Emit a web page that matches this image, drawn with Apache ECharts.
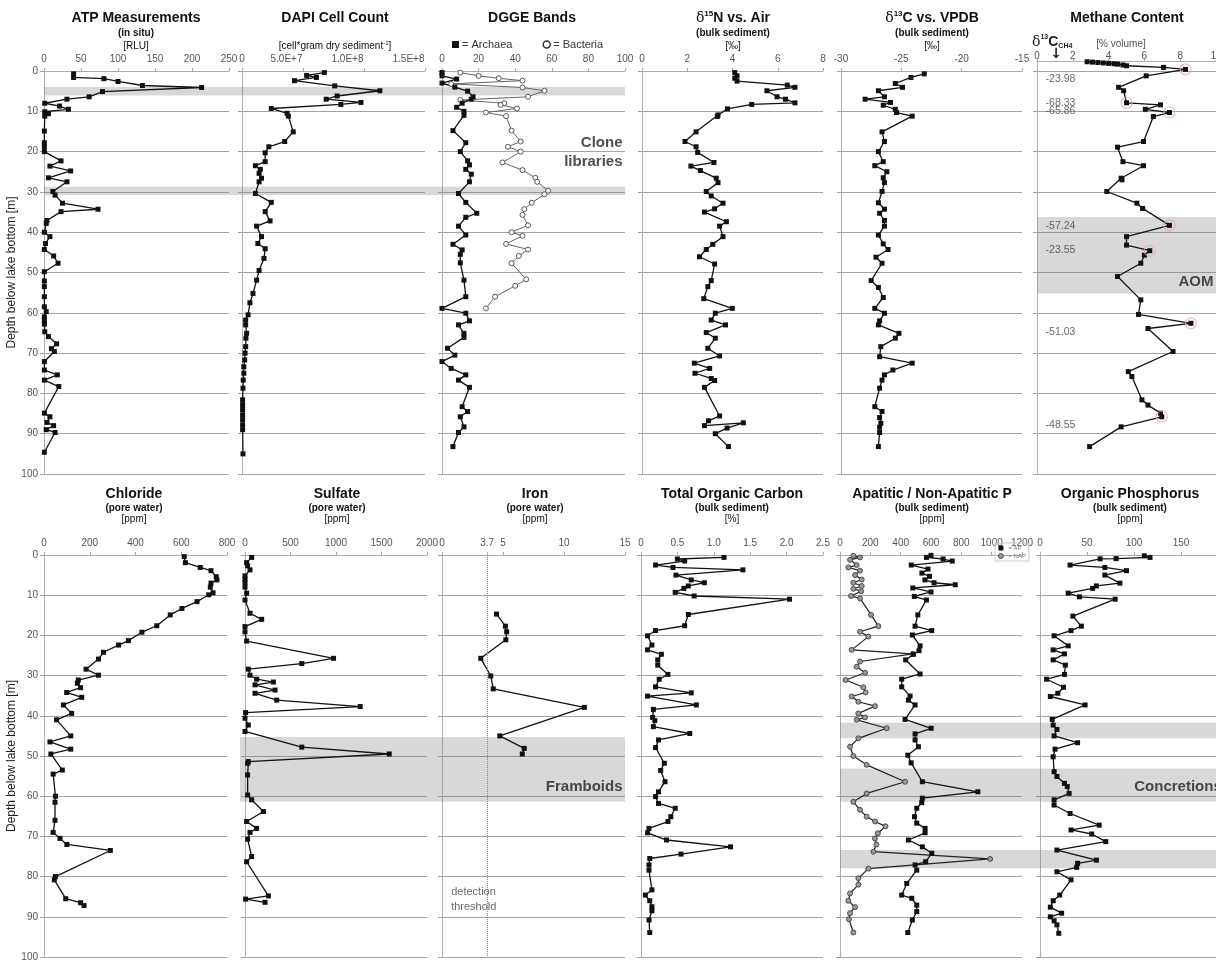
<!DOCTYPE html>
<html>
<head>
<meta charset="utf-8">
<title>Sediment core profiles</title>
<script src="https://cdn.jsdelivr.net/npm/echarts@6/dist/echarts.min.js"></script>
<style>html,body{margin:0;padding:0;background:#fff}#chart{width:1216px;height:960px}</style>
</head>
<body>
<div id="chart"></div>
<script>
// ================= DATA (depth in m below lake bottom) =================
const atpDepth = [0.7,1.6,1.9,2.6,3.6,4.1,5.1,6.4,7.0,8.0,8.7,9.5,10.1,10.6,11.2,14.9,17.8,18.8,20.0,22.3,23.6,24.8,26.5,27.5,29.9,30.8,32.8,34.3,34.9,37.1,37.8,40.0,41.1,42.8,44.3,45.9,47.7,49.8,52.1,53.5,56.0,58.5,59.7,61.0,62.0,62.8,64.7,65.9,67.7,68.9,69.6,72.1,74.2,75.4,76.7,78.3,84.9,85.8,87.2,88.0,89.0,89.7,94.6];
const atpRLU = [40,40,81,100,133,213,79,61,31,1,21,33,1,6,1,0.5,0.5,0.5,0.5,23,8,36,6,31,12,15,25,73,23,4,3,0.5,8,2,0.5,13,19,0.5,0.5,0.5,0.5,0.5,3,0.5,0.5,0.5,1,6,17,10,14,0.5,0.5,18,0.5,20,0.5,8,4,13,3,15,0.5];

const dapiDepth = [0.4,1.1,1.6,2.4,3.7,4.9,6.2,7.0,7.8,8.3,9.3,10.5,11.2,15.1,17.5,18.8,20.3,22.5,23.5,24.4,25.4,26.6,27.5,30.4,32.6,34.9,37.2,38.5,41.1,42.8,44.1,46.5,49.5,51.9,55.2,57.5,60.5,61.8,63.0,65.1,66.3,68.4,70.0,71.7,73.4,75.0,76.7,78.7,81.6,82.8,84.0,85.3,86.5,87.8,89.0,95.0];
const dapiCells = [6.75e7,5.3e7,6.1e7,4.3e7,7.6e7,1.13e8,7.8e7,6.9e7,9.75e7,8.1e7,2.4e7,3.7e7,3.8e7,4.2e7,3.5e7,2.2e7,1.9e7,1.9e7,1.1e7,1.5e7,1.4e7,1.6e7,1.4e7,1.1e7,2.4e7,1.9e7,2.3e7,1.2e7,1.6e7,1.3e7,1.9e7,1.8e7,1.4e7,1.2e7,9e6,6.5e6,5e6,3e6,3e6,3.8e6,3.2e6,3e6,2.5e6,2.2e6,1.5e6,1.5e6,1e6,8e5,5e5,5e5,5e5,5e5,5e5,5e5,5e5,8e5];

const archaeaDepth = [0.4,1.2,2.0,3.0,4.0,5.0,6.4,7.0,8.0,9.0,10.0,11.0,14.8,17.8,20.0,22.3,23.3,24.4,25.6,27.5,30.4,32.6,35.3,36.3,38.5,40.7,43.0,44.4,45.5,47.6,51.9,56.0,58.9,60.1,62.0,63.0,65.1,66.1,68.8,70.5,72.1,73.8,75.4,76.7,78.5,83.3,84.5,85.8,88.3,89.7,93.2];
const archaeaBands = [0,0,8,0,7,14,17,16,11,8,12,12,6,13,10,14,15,13,16,15,9,13,19,13,9,13,6,11,10,10,12,13,0,13,15,9,12,12,3,7,0,5,13,9,15,11,14,10,12,9,6];
const bacteriaDepth = [0.4,1.2,1.8,2.4,3.2,4.1,4.9,6.4,7.2,8.0,8.4,9.3,10.3,11.2,14.8,17.5,18.8,20.0,22.7,24.6,26.5,27.5,29.7,30.6,32.7,34.3,35.7,38.3,40.0,40.9,42.9,44.3,45.9,47.7,51.7,53.3,56.0,58.9];
const bacteriaBands = [10,20,31,44,5,44,56,47,10,34,32,41,24,35,38,43,36,43,33,44,51,52,58,56,49,45,44,47,38,44,35,47,42,38,46,40,29,24];

const d15nDepth = [0.4,1.2,1.8,2.5,3.5,4.05,4.9,6.4,7.0,7.9,8.3,9.4,10.9,11.3,15.1,17.5,18.8,20.2,22.7,23.6,24.7,26.6,27.7,29.9,31.0,32.8,34.2,35.0,37.4,38.5,41.1,43.0,44.3,46.1,47.9,52.0,53.5,56.5,58.9,60.1,61.8,63.0,64.9,66.3,68.8,70.7,72.5,73.8,75.0,76.3,76.8,78.5,85.6,86.8,88.0,87.3,88.6,90.0,93.2];
const d15nValue = [4.1,4.2,4.1,4.2,6.42,6.76,5.52,5.97,6.34,6.76,4.85,3.78,3.36,3.33,2.39,1.9,2.39,2.46,3.18,2.16,2.58,3.28,3.36,2.84,3.06,3.58,3.21,2.76,3.73,3.43,3.58,3.13,2.84,2.54,3.21,3.06,2.91,2.73,3.99,3.24,3.06,3.69,2.84,3.24,2.91,3.43,2.31,2.99,2.34,3.06,3.21,2.76,3.43,2.94,2.76,4.48,3.76,3.24,3.82];

const d13cDepth = [0.7,1.6,3.1,4.05,4.9,6.4,7.0,7.8,8.5,9.5,10.3,11.2,15.1,17.5,20.0,22.5,23.5,25.0,26.5,27.7,29.9,32.7,34.3,35.3,37.1,38.5,40.7,42.9,44.3,46.2,47.7,52.0,53.7,56.2,58.9,60.1,62.0,63.0,65.1,66.3,68.4,70.9,72.5,74.2,75.4,76.7,78.7,83.3,84.5,86.0,87.4,88.4,89.7,93.2];
const d13cValue = [-23.1,-24.2,-25.5,-24.9,-26.9,-26.4,-28.0,-25.9,-26.5,-25.5,-25.4,-24.1,-26.6,-26.4,-26.9,-26.5,-27.2,-26.2,-26.5,-26.4,-26.6,-26.9,-26.4,-26.8,-26.4,-26.4,-26.9,-26.5,-26.1,-27.1,-26.6,-27.5,-26.9,-26.5,-27.2,-26.4,-26.8,-26.9,-25.2,-25.5,-26.7,-26.8,-24.1,-25.7,-26.4,-26.6,-26.8,-27.2,-26.6,-26.8,-26.7,-26.8,-26.8,-26.9];

const ch4Depth = [-2.3,-2.2,-2.1,-2.0,-1.9,-1.8,-1.7,-1.5,-1.3,-0.9,-0.4,1.2,4.05,4.9,7.9,8.4,9.5,10.3,11.3,17.5,18.9,22.5,23.5,26.6,27.0,29.9,32.8,34.1,38.3,41.1,43.2,44.6,45.7,47.7,51.0,56.8,60.4,62.6,63.9,69.6,74.6,75.8,81.6,82.9,84.9,85.8,88.3,93.2];
const ch4Volume = [2.8,3.1,3.4,3.7,4.0,4.3,4.5,4.8,5.0,7.07,8.3,6.1,4.56,4.84,5.0,6.9,6.05,7.4,6.5,5.95,4.5,4.8,5.95,4.7,4.75,3.9,5.58,5.9,7.4,5.0,5.0,6.3,6.0,5.8,4.5,5.8,5.67,8.6,6.2,7.6,5.1,5.3,5.86,6.2,6.9,6.97,4.7,2.94];
const ch4IsotopeIdx = [10,14,17,28,31,37,45];            // samples measured for d13C-CH4 (circled)
const ch4IsotopeLabel = ['-23.98','-68.33','-65.86','-57.24','-23.55','-51.03','-48.55'];
const ch4IsotopeLabelDepth = [2.0,8.0,9.9,38.5,44.4,64.7,87.8];

const chlorideDepth = [0.4,1.9,3.1,3.9,5.4,6.2,7.0,8.0,9.4,9.9,11.6,13.3,14.9,17.6,19.2,21.3,22.4,24.2,25.9,28.4,29.9,31.1,31.9,33.0,34.2,35.4,37.3,39.4,41.0,45.0,46.5,48.3,49.5,53.5,54.5,60.0,61.5,66.0,69.0,70.5,72.0,73.5,80.0,80.8,85.5,86.5,87.2];
const chloridePpm = [613,618,683,730,753,756,730,727,739,720,669,603,552,493,428,369,326,260,238,184,238,150,146,160,99,165,85,121,55,117,26,117,30,80,40,50,48,48,40,70,100,290,50,45,95,160,175];

const sulfateDepth = [0.6,1.9,2.7,3.7,5.2,6.0,6.9,8.0,9.5,11.2,14.5,16.0,17.8,19.1,21.4,25.7,27.0,28.4,29.9,30.9,31.6,32.3,33.6,34.4,36.1,37.7,39.2,40.6,42.3,43.9,47.8,49.5,51.4,51.8,54.7,59.7,60.9,63.8,66.3,68.0,69.0,70.7,75.0,76.3,84.8,85.6,86.4];
const sulfatePpm = [73,18,29,55,0,0,0,0,18,0,55,183,0,0,18,973,624,37,55,128,312,110,330,110,349,1266,7,0,37,0,624,1585,37,29,29,29,73,202,18,128,55,29,73,18,257,7,220];

const ironDepth = [14.7,17.7,19.1,21.1,25.7,30.1,33.3,37.9,45.0,48.1,49.5];
const ironPpm = [4.47,5.2,5.3,5.23,3.18,4.0,4.2,11.67,4.74,6.74,6.58];
const ironDetectionThreshold = 3.7;

const tocDepth = [0.6,1.0,1.5,2.5,3.1,3.7,5.0,6.2,6.9,7.7,8.3,9.3,10.2,11.0,14.8,17.6,18.8,20.1,22.4,23.6,24.7,26.1,27.4,29.7,30.9,32.8,34.3,35.1,37.3,38.4,40.4,41.2,42.7,44.4,46.0,47.9,51.8,53.6,56.4,58.9,60.1,61.8,63.0,65.1,66.3,68.0,69.1,70.9,72.6,74.4,75.5,77.1,78.4,83.3,84.6,86.0,87.5,88.5,90.8,93.9];
const tocPercent = [1.14,0.5,0.6,0.2,0.44,1.4,0.48,0.69,0.87,0.65,0.59,0.47,0.73,2.04,0.65,0.6,0.2,0.09,0.15,0.09,0.28,0.23,0.23,0.37,0.25,0.2,0.69,0.09,0.76,0.17,0.16,0.19,0.17,0.67,0.24,0.2,0.32,0.27,0.33,0.24,0.2,0.24,0.47,0.41,0.37,0.11,0.09,0.35,1.23,0.55,0.12,0.11,0.11,0.15,0.06,0.12,0.15,0.15,0.11,0.12];

const apDepth = [0.1,0.6,1.0,1.5,2.5,3.5,4.5,5.3,6.2,6.9,7.4,8.2,9.2,10.3,11.2,14.9,17.7,18.8,19.9,22.6,23.8,24.7,26.1,29.6,30.9,32.8,35.1,36.1,37.3,40.9,43.1,44.5,46.0,47.7,49.8,51.7,56.4,58.9,60.5,61.6,63.0,65.1,66.7,68.0,69.1,70.9,72.6,74.2,76.3,77.1,78.4,81.7,84.6,85.4,87.1,88.7,90.8,93.9];
const apPpm = [600,570,680,740,470,580,540,590,560,620,760,480,600,490,570,513,495,605,477,528,521,484,433,528,407,407,462,451,495,429,601,495,495,517,447,469,543,909,543,539,506,491,506,561,561,451,543,605,565,495,506,440,407,473,506,506,477,447];
const napDepth = [0.2,0.6,1.2,2.5,3.1,3.9,5.0,6.1,6.9,7.7,8.4,9.0,10.2,10.8,14.9,17.7,19.1,20.3,23.6,24.6,26.5,27.8,29.3,31.1,32.9,34.2,35.2,36.5,37.6,39.4,40.4,41.0,43.1,45.6,47.7,50.0,52.2,56.4,59.3,61.4,63.4,65.1,66.3,67.5,69.2,70.5,72.0,73.8,75.6,78.0,80.4,82.0,84.2,86.0,87.6,89.1,90.6,93.9];
const napPpm = [88,132,66,110,55,132,99,143,88,143,88,139,73,132,205,253,132,187,77,480,132,110,165,37,154,169,77,121,231,121,165,110,308,121,66,88,176,429,176,88,132,176,231,300,250,230,240,220,990,187,121,121,66,55,99,66,59,88];

const orgPDepth = [0.2,0.6,0.9,0.95,2.5,3.1,3.9,5.0,7.0,7.7,8.3,9.5,10.4,11.0,15.2,17.7,18.8,20.1,22.6,23.6,24.6,26.1,27.4,29.7,30.9,32.9,34.4,35.2,37.3,40.9,42.3,43.4,45.0,46.7,48.3,50.2,53.9,55.1,56.8,57.6,59.3,60.9,62.2,64.3,67.2,68.4,69.4,71.3,73.4,75.9,76.7,77.7,78.8,80.8,84.6,86.0,87.6,89.1,90.0,91.0,92.0,94.1];
const orgPPpm = [111,117,81,64,32,69,92,69,85,60,56,30,42,80,35,44,33,15,30,14,26,14,27,26,7,25,19,11,48,13,14,18,15,40,16,14,15,18,26,29,31,15,15,32,63,33,55,70,18,60,40,39,18,33,21,14,11,23,11,15,18,20];

// highlighted depth intervals [from, to] in m
const sampleBandsTop = [[4.0,6.1],[28.7,30.8]];
const aomBand = [[36.2,55.2]];
const framboidBand = [[45.3,61.4]];
const concretionBands = [[41.7,45.6],[53.1,61.4],[73.4,77.9]];

// ================= LAYOUT / STYLE =================
const FONT = '"Liberation Sans", Arial, Helvetica, sans-serif';
const ROWS = {
  top:    {y:71,  h:403, titleY:10,  lh:[16,14,12]},
  bottom: {y:555, h:402, titleY:487, lh:[15,12,10]}
};
const plainFmt = v => String(v);
const expFmt = v => v === 0 ? '0' : '{r|' + v.toExponential(1).toUpperCase() + '}';
const oneDec = v => v === 0 ? '0' : v.toFixed(1);

const panels = [
  {id:'atp',  row:'top', left:44,   width:185, xr:[0,250,50],  cx:136,  yName:true,
   title:'{t|ATP Measurements}\n{s|(in situ)}\n{u|[RLU]}'},
  {id:'dapi', row:'top', left:242,  width:183, xr:[0,1.5e8,5e7], fmt:expFmt,
   labelRich:{r:{fontSize:10, color:'#555', padding:[0,33,0,0]}}, cx:335,
   title:'{t|DAPI Cell Count}\n{s| }\n{u|[cell*gram dry sediment}{up|-1}{u|]}'},
  {id:'dgge', row:'top', left:442,  width:183, xr:[0,100,20],  cx:532, title:'{t|DGGE Bands}'},
  {id:'d15n', row:'top', left:642,  width:181, xr:[0,8,2],     cx:733,
   title:'{g|δ}{tp|15}{t|N vs. Air}\n{s|(bulk sediment)}\n{u|[‰]}'},
  {id:'d13c', row:'top', left:841,  width:181, xr:[-30,-15,5], cx:932,
   title:'{g|δ}{tp|13}{t|C vs. VPDB}\n{s|(bulk sediment)}\n{u|[‰]}'},
  {id:'ch4',  row:'top', left:1037, width:179, xr:[0,10,2],    cx:1127, ymin:-2.4, labelMargin:0,
   title:'{t|Methane Content}'},
  {id:'cl',   row:'bottom', left:44,   width:183, xr:[0,800,200], cx:134, yName:true,
   title:'{t|Chloride}\n{s|(pore water)}\n{u|[ppm]}'},
  {id:'so4',  row:'bottom', left:245,  width:182, xr:[0,2000,500], cx:337,
   title:'{t|Sulfate}\n{s|(pore water)}\n{u|[ppm]}'},
  {id:'fe',   row:'bottom', left:442,  width:183, xr:[0,15,5], custom:[0, ironDetectionThreshold, 5, 10, 15], cx:535,
   title:'{t|Iron}\n{s|(pore water)}\n{u|[ppm]}'},
  {id:'toc',  row:'bottom', left:641,  width:182, xr:[0,2.5,0.5], fmt:oneDec, cx:732,
   title:'{t|Total Organic Carbon}\n{s|(bulk sediment)}\n{u|[%]}'},
  {id:'p',    row:'bottom', left:840,  width:182, xr:[0,1200,200], cx:932,
   title:'{t|Apatitic / Non-Apatitic P}\n{s|(bulk sediment)}\n{u|[ppm]}'},
  {id:'orgp', row:'bottom', left:1040, width:188, xr:[0,200,50], cx:1130,
   title:'{t|Organic Phosphorus}\n{s|(bulk sediment)}\n{u|[ppm]}'}
];
const pIdx = id => panels.findIndex(p => p.id === id);

const STY = {
  sq: {symbol:'rect', symbolSize:5, itemStyle:{color:'#111'}, lineStyle:{color:'#111', width:1.3}},
  oc: {symbol:'circle', symbolSize:5, itemStyle:{color:'#fff', borderColor:'#555', borderWidth:1}, lineStyle:{color:'#666', width:1}},
  gc: {symbol:'circle', symbolSize:5, itemStyle:{color:'#9a9a9a', borderColor:'#333', borderWidth:0.8}, lineStyle:{color:'#222', width:1.2}}
};
const profiles = [
  {panel:'atp',  name:'ATP',      x:atpRLU,        y:atpDepth,      s:'sq'},
  {panel:'dapi', name:'DAPI',     x:dapiCells,     y:dapiDepth,     s:'sq'},
  {panel:'dgge', name:'Bacteria', x:bacteriaBands, y:bacteriaDepth, s:'oc'},
  {panel:'dgge', name:'Archaea',  x:archaeaBands,  y:archaeaDepth,  s:'sq'},
  {panel:'d15n', name:'d15N',     x:d15nValue,     y:d15nDepth,     s:'sq'},
  {panel:'d13c', name:'d13C',     x:d13cValue,     y:d13cDepth,     s:'sq'},
  {panel:'ch4',  name:'CH4',      x:ch4Volume,     y:ch4Depth,      s:'sq'},
  {panel:'cl',   name:'Chloride', x:chloridePpm,   y:chlorideDepth, s:'sq'},
  {panel:'so4',  name:'Sulfate',  x:sulfatePpm,    y:sulfateDepth,  s:'sq'},
  {panel:'fe',   name:'Iron',     x:ironPpm,       y:ironDepth,     s:'sq'},
  {panel:'toc',  name:'TOC',      x:tocPercent,    y:tocDepth,      s:'sq'},
  {panel:'p',    name:'NAP',      x:napPpm,        y:napDepth,      s:'gc'},
  {panel:'p',    name:'AP',       x:apPpm,         y:apDepth,       s:'sq'},
  {panel:'orgp', name:'OrgP',     x:orgPPpm,       y:orgPDepth,     s:'sq'}
];
const helpers = [
  {row:'top',    left:44,   width:581, bands:sampleBandsTop},
  {row:'top',    left:1037, width:179, bands:aomBand, gridLines:true},
  {row:'bottom', left:240,  width:385, bands:framboidBand},
  {row:'bottom', left:840,  width:388, bands:concretionBands}
];
const notes = [
  {panel:'dgge', at:[100, 20.1], text:'Clone\nlibraries', pos:'left', big:true},
  {panel:'ch4',  at:[10, 52.4],  text:'AOM',             pos:'left', big:true},
  {panel:'fe',   at:[15, 57.7],  text:'Framboids',       pos:'left', big:true},
  {panel:'orgp', at:[196, 57.7], text:'Concretions',     pos:'left', big:true},
  {panel:'fe',   at:[0.3, 85.7], text:'detection\nthreshold', pos:'right', big:false}
];

function richFor(lh){
  return {
    t:{fontFamily:FONT, fontSize:14, fontWeight:'bold', color:'#111', lineHeight:lh[0]},
    g:{fontFamily:'"DejaVu Serif", serif', fontSize:14, color:'#111', lineHeight:lh[0]},
    tp:{fontFamily:FONT, fontSize:8, fontWeight:'bold', color:'#111', verticalAlign:'top'},
    s:{fontFamily:FONT, fontSize:10, fontWeight:'bold', color:'#111', lineHeight:lh[1]},
    u:{fontFamily:FONT, fontSize:10, color:'#555', lineHeight:lh[2]},
    up:{fontFamily:FONT, fontSize:6, color:'#555', verticalAlign:'top'}
  };
}

// ================= BUILD OPTION =================
const option = {
  animation:false, backgroundColor:'#ffffff', textStyle:{fontFamily:FONT},
  grid:[], xAxis:[], yAxis:[], series:[], graphic:[], legend:[]
};

panels.forEach((p, i) => {
  const r = ROWS[p.row];
  const ymin = p.ymin || 0;
  const pxPerM = r.h / 100;
  option.grid.push({left:p.left, width:p.width, top:r.y + ymin*pxPerM, height:r.h - ymin*pxPerM,
                    containLabel:false, outerBoundsMode:'none'});
  const xa = {
    gridIndex:i, type:'value', position:'top', min:p.xr[0], max:p.xr[1], interval:p.xr[2],
    axisLine:{show:true, onZero:false, lineStyle:{color:'#ababab', width:1}},
    axisTick:{show:true, length:3, lineStyle:{color:'#ababab'}},
    axisLabel:{show:true, fontSize:10, color:'#555', margin:(p.labelMargin ?? 7), hideOverlap:false,
               showMinLabel:true, showMaxLabel:true, formatter:(p.fmt || plainFmt)},
    splitLine:{show:false}
  };
  if (p.labelRich) xa.axisLabel.rich = p.labelRich;
  if (p.custom) { xa.axisLabel.customValues = p.custom; xa.axisTick.customValues = p.custom; }
  option.xAxis.push(xa);
  const plain = ymin === 0;
  const ya = {
    gridIndex:i, type:'value', inverse:true, min:ymin, max:100,
    axisLine:{show:true, onZero:false, lineStyle:{color:'#b0b0b0', width:1}},
    axisTick:{show:plain, length:4, lineStyle:{color:'#a0a0a0'}},
    axisLabel:{show:plain && !!p.yName, fontSize:10, color:'#555', margin:6, formatter:plainFmt},
    splitLine:{show:plain, lineStyle:{color:'#a3a3a3', width:1}}
  };
  if (plain) ya.interval = 10;
  if (p.yName) Object.assign(ya, {name:'Depth below lake bottom [m]', nameLocation:'middle', nameGap:25,
    nameTextStyle:{fontSize:12, color:'#222', fontFamily:FONT}});
  option.yAxis.push(ya);
  option.graphic.push({type:'text', x:p.cx, y:r.titleY, z:100,
    style:{text:p.title, rich:richFor(r.lh), align:'center', verticalAlign:'top', fill:'#111'}});
});

// helper grids carrying the shaded depth intervals (drawn beneath the profiles)
helpers.forEach(h => {
  const r = ROWS[h.row];
  const gi = option.grid.length;
  option.grid.push({left:h.left, width:h.width, top:r.y, height:r.h, containLabel:false, outerBoundsMode:'none'});
  option.xAxis.push({gridIndex:gi, type:'value', min:0, max:1, show:false});
  option.yAxis.push({gridIndex:gi, type:'value', inverse:true, min:0, max:100, interval:10, show:!!h.gridLines,
    axisLine:{show:false}, axisLabel:{show:false},
    axisTick:{show:!!h.gridLines, length:4, lineStyle:{color:'#a0a0a0'}},
    splitLine:{show:!!h.gridLines, lineStyle:{color:'#a3a3a3', width:1}}});
  option.series.push({type:'line', xAxisIndex:gi, yAxisIndex:gi, data:[], silent:true,
    markArea:{silent:true, itemStyle:{color:'rgba(125,125,125,0.3)'},
      data:h.bands.map(b => [{yAxis:b[0]}, {yAxis:b[1]}])}});
});

// depth profiles
profiles.forEach(pr => {
  const i = pIdx(pr.panel);
  const st = STY[pr.s];
  const s = {type:'line', name:pr.name, xAxisIndex:i, yAxisIndex:i, z:3,
    data:pr.x.map((v, k) => [v, pr.y[k]]),
    symbol:st.symbol, symbolSize:st.symbolSize, showSymbol:true,
    itemStyle:st.itemStyle, lineStyle:st.lineStyle, emphasis:{disabled:true}};
  if (pr.panel === 'fe') s.markLine = {silent:true, symbol:'none', label:{show:false},
    lineStyle:{type:'dotted', color:'#888', width:1}, data:[{xAxis:ironDetectionThreshold}]};
  option.series.push(s);
});

// circled samples with d13C-CH4 values
const ci = pIdx('ch4');
option.series.push({type:'scatter', xAxisIndex:ci, yAxisIndex:ci, silent:true, z:4,
  data:ch4IsotopeIdx.map(k => [ch4Volume[k], ch4Depth[k]]), symbol:'circle', symbolSize:11,
  itemStyle:{color:'rgba(0,0,0,0)', borderColor:'#e4a9a9', borderWidth:1.2}});
option.series.push({type:'scatter', xAxisIndex:ci, yAxisIndex:ci, silent:true, z:4,
  data:ch4IsotopeLabelDepth.map(d => [0.45, d]), symbolSize:1, itemStyle:{color:'rgba(0,0,0,0)'},
  label:{show:true, position:'right', distance:0, fontSize:10.5, color:'#444',
    formatter:pm => ch4IsotopeLabel[pm.dataIndex]}});

// text annotations
notes.forEach(n => {
  const i = pIdx(n.panel);
  option.series.push({type:'scatter', xAxisIndex:i, yAxisIndex:i, silent:true, z:6, clip:false,
    data:[n.at], symbolSize:1, itemStyle:{color:'rgba(0,0,0,0)'},
    label:{show:true, position:n.pos, distance:n.big ? 2 : 5, formatter:n.text,
      fontSize:n.big ? 15 : 11, fontWeight:n.big ? 'bold' : 'normal', color:n.big ? '#222' : '#444',
      lineHeight:n.big ? 19 : 15, align:n.pos === 'left' ? 'right' : 'left'}});
});

// legends
option.legend.push({left:447, top:34, itemWidth:7, itemHeight:7, itemGap:30, selectedMode:false,
  formatter:'= {name}', textStyle:{fontSize:11, color:'#333', padding:[0,0,0,-2]},
  data:[{name:'Archaea', icon:'rect', itemStyle:{color:'#111'}},
        {name:'Bacteria', icon:'circle', itemStyle:{color:'#fff', borderColor:'#333', borderWidth:1.5}}]});
option.legend.push({left:995, top:543, orient:'vertical', itemWidth:5, itemHeight:5, itemGap:2, selectedMode:false,
  formatter:'= {name}', textStyle:{fontSize:6, color:'#777'}, padding:[2,3], borderColor:'#c8c8c8', borderWidth:1,
  data:[{name:'AP', icon:'rect', itemStyle:{color:'#111'}},
        {name:'NAP', icon:'circle', itemStyle:{color:'#9a9a9a', borderColor:'#333', borderWidth:0.8}}]});

// methane header texts
option.graphic.push({type:'text', x:1121, y:39, z:100,
  style:{text:'[% volume]', fontFamily:FONT, fontSize:10, fill:'#555', align:'center', verticalAlign:'top'}});
option.graphic.push({type:'text', x:1032, y:34, z:100,
  style:{text:'{d|δ}{p|13}{c|C}{b|CH4}', verticalAlign:'top', rich:{
    d:{fontFamily:'"DejaVu Serif", serif', fontSize:14, fill:'#222', lineHeight:16},
    p:{fontFamily:FONT, fontSize:7, fontWeight:'bold', fill:'#222', verticalAlign:'top'},
    c:{fontFamily:FONT, fontSize:14, fontWeight:'bold', fill:'#222', lineHeight:16},
    b:{fontFamily:FONT, fontSize:7, fontWeight:'bold', fill:'#222', verticalAlign:'bottom'}}}});
option.graphic.push({type:'text', x:1056, y:47, z:100,
  style:{text:'↓', fontFamily:'"DejaVu Sans", sans-serif', fontSize:14, fontWeight:'bold', fill:'#222',
         align:'center', verticalAlign:'top'}});

const chart = echarts.init(document.getElementById('chart'), null, {renderer:'canvas', width:1216, height:960});
chart.setOption(option);
</script>
</body>
</html>
